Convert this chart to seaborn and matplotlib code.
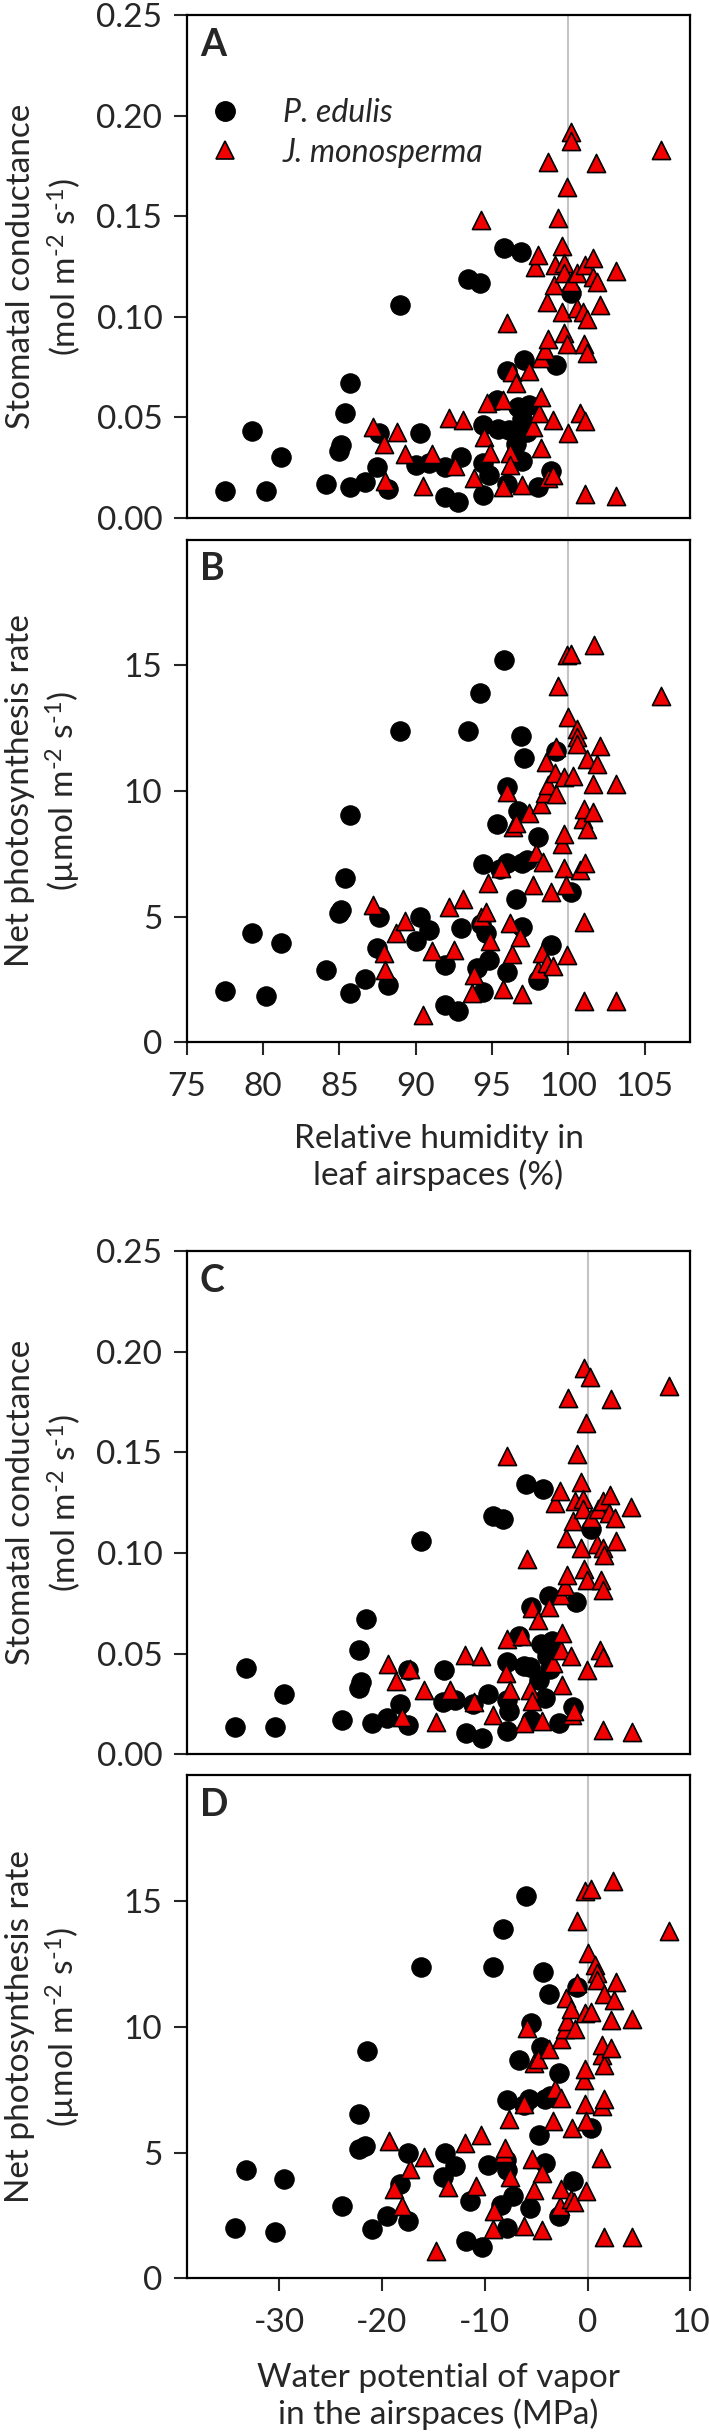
import matplotlib
matplotlib.use('Agg')
import matplotlib.pyplot as plt
import seaborn as sns
from matplotlib.lines import Line2D

# P. edulis - stomatal conductance panel (A / C)
pe_rh_gs = [77.5, 79.3, 80.2, 81.2, 84.1, 85.0, 85.1, 85.4, 85.7, 85.7, 86.7, 87.5, 87.6, 88.2,
            89.0, 90.0, 90.3, 90.9, 91.9, 91.9, 92.8, 93.0, 93.4, 94.2, 94.4, 94.4, 94.4, 94.8,
            95.3, 95.4, 95.8, 96.0, 96.0, 96.1, 96.6, 96.7, 96.9, 97.0, 97.1, 97.0, 97.3, 97.4,
            98.0, 98.9, 99.2, 100.2]
pe_gs = [0.0135, 0.043, 0.0135, 0.030, 0.017, 0.033, 0.036, 0.052, 0.067, 0.0155, 0.018, 0.025, 0.042, 0.0145,
         0.106, 0.026, 0.042, 0.027, 0.0105, 0.025, 0.008, 0.030, 0.1186, 0.117, 0.046, 0.027, 0.0114, 0.0215,
         0.0586, 0.044, 0.1344, 0.073, 0.0168, 0.0434, 0.0367, 0.055, 0.132, 0.028, 0.0786, 0.049, 0.0425, 0.056,
         0.0154, 0.0234, 0.0758, 0.112]
pe_psi_gs = [-34.3, -33.2, -30.4, -29.5, -23.9, -22.2, -22.0, -22.2, -21.6, -21.0, -19.5, -18.2, -17.5, -17.5,
             -16.2, -14.1, -14.0, -12.9, -11.8, -11.1, -10.3, -9.7, -9.2, -8.2, -7.8, -7.8, -7.8, -7.6,
             -6.7, -6.2, -6.0, -5.5, -5.5, -5.6, -4.75, -4.5, -4.3, -4.1, -3.8, -3.9, -3.65, -3.5,
             -2.8, -1.45, -1.1, 0.3]

# P. edulis - net photosynthesis panel (B / D)
pe_rh_an = [77.5, 79.3, 80.2, 81.2, 84.1, 85.0, 85.1, 85.4, 85.7, 85.7, 86.7, 87.5, 87.6, 88.2,
            89.0, 90.0, 90.3, 90.9, 91.9, 91.9, 92.8, 93.0, 93.4, 94.2, 94.0, 94.4, 94.3, 94.6,
            94.4, 94.8, 95.3, 95.5, 95.8, 96.0, 96.0, 96.0, 96.6, 96.7, 96.9, 97.0, 97.0, 97.1,
            97.3, 98.0, 98.0, 98.9, 99.2, 100.2]
pe_an = [2.02, 4.33, 1.83, 3.95, 2.87, 5.15, 5.25, 6.55, 9.04, 1.98, 2.5, 3.76, 4.99, 2.28,
         12.4, 4.05, 4.99, 4.48, 1.48, 3.08, 1.26, 4.53, 12.4, 13.9, 2.94, 7.08, 4.7, 4.33,
         1.99, 3.27, 8.69, 6.9, 15.2, 10.15, 7.14, 2.79, 5.69, 9.2, 12.2, 7.12, 4.59, 11.3,
         7.27, 8.18, 2.48, 3.86, 11.6, 5.98]
pe_psi_an = [-34.3, -33.2, -30.4, -29.5, -23.9, -22.2, -21.7, -22.2, -21.5, -21.0, -19.5, -18.2, -17.5, -17.5,
             -16.2, -14.1, -13.9, -12.9, -11.8, -11.4, -10.3, -9.7, -9.2, -8.2, -8.4, -7.8, -7.9, -7.8,
             -7.8, -7.3, -6.7, -6.2, -6.0, -5.5, -5.7, -5.6, -4.7, -4.5, -4.3, -4.1, -4.1, -3.8,
             -3.65, -2.8, -2.8, -1.45, -1.0, 0.3]

# J. monosperma - stomatal conductance panel (A / C)
jm_rh_gs = [87.2, 87.9, 88.8, 88.0, 89.3, 90.5, 91.1, 92.2, 92.6, 93.1, 93.8, 94.3, 94.5, 94.7,
            94.9, 95.7, 95.7, 96.0, 96.2, 96.2, 96.3, 96.6, 97.0, 97.4, 97.7, 97.8, 98.0, 98.1,
            98.2, 98.2, 98.2, 98.5, 98.6, 98.65, 98.65, 98.7, 99.0, 99.0, 99.05, 99.1, 99.3, 99.6,
            99.6, 99.7, 99.7, 99.75, 99.9, 99.9, 100.0, 100.2, 100.2, 100.2, 100.6, 100.6, 100.8, 100.95,
            101.05, 101.1, 101.1, 101.1, 101.2, 101.2, 101.6, 101.6, 101.8, 101.9, 102.1, 103.1, 103.1, 106.1]
jm_gs = [0.045, 0.0366, 0.0425, 0.0183, 0.0317, 0.0158, 0.0317, 0.0495, 0.0258, 0.0487, 0.0196, 0.148, 0.0403, 0.057,
         0.0321, 0.0586, 0.0155, 0.097, 0.0321, 0.0263, 0.0727, 0.0669, 0.0163, 0.0732, 0.0453, 0.1249, 0.1307, 0.052,
         0.0603, 0.0346, 0.0793, 0.0835, 0.1075, 0.1772, 0.0196, 0.0888, 0.0487, 0.0213, 0.1158, 0.1258, 0.149, 0.1352,
         0.1025, 0.1266, 0.1216, 0.0918, 0.1647, 0.0865, 0.042, 0.192, 0.1875, 0.1175, 0.1216, 0.1042, 0.052, 0.1025,
         0.0865, 0.0118, 0.0483, 0.1258, 0.0988, 0.0818, 0.129, 0.12, 0.1764, 0.1175, 0.1059, 0.123, 0.0108, 0.183]
jm_psi_gs = [-19.4, -18.6, -17.3, -18.1, -15.9, -14.7, -13.4, -11.9, -11.0, -10.4, -9.2, -7.8, -7.9, -7.8,
             -7.5, -6.4, -6.2, -5.9, -5.6, -5.4, -5.4, -4.8, -4.4, -3.8, -3.4, -3.2, -2.7, -2.6,
             -2.5, -2.5, -2.6, -2.2, -2.1, -1.9, -1.5, -2.0, -1.6, -1.3, -1.4, -1.2, -1.0, -0.6,
             -0.6, -0.4, -0.4, -0.35, -0.2, -0.1, -0.1, -0.3, 0.2, 0.3, 1.0, 0.9, 1.2, 1.5,
             1.3, 1.5, 1.5, 1.5, 1.6, 1.5, 2.2, 2.1, 2.3, 2.7, 2.8, 4.2, 4.3, 7.9]

# J. monosperma - net photosynthesis panel (B / D)
jm_rh_an = [87.2, 87.9, 88.0, 88.7, 89.3, 90.5, 91.1, 92.2, 92.5, 93.1, 93.7, 93.8, 94.3, 94.6,
            94.75, 94.9, 95.6, 95.7, 96.0, 96.2, 96.3, 96.4, 96.6, 96.85, 96.96, 97.4, 97.7, 97.9,
            98.0, 98.2, 98.26, 98.35, 98.5, 98.54, 98.6, 98.65, 98.9, 99.0, 99.1, 99.2, 99.2, 99.3,
            99.6, 99.7, 99.7, 99.7, 99.85, 99.9, 99.9, 99.97, 100.2, 100.3, 100.6, 100.6, 100.6, 100.8,
            100.95, 101.0, 101.06, 101.06, 101.1, 101.2, 101.2, 101.6, 101.6, 101.7, 101.9, 102.1, 103.1, 103.1,
            106.1]
jm_an = [5.46, 3.54, 2.87, 4.36, 4.84, 1.09, 3.64, 5.39, 3.67, 5.69, 1.95, 2.68, 4.99, 5.19,
         6.32, 4.04, 6.92, 2.1, 9.97, 4.73, 3.51, 8.57, 8.73, 4.2, 1.91, 9.13, 6.25, 7.52,
         2.87, 9.5, 3.56, 7.18, 9.93, 11.16, 3.14, 10.23, 5.99, 3.03, 10.7, 9.9, 11.75, 14.2,
         7.88, 8.31, 6.92, 10.56, 6.25, 15.4, 3.47, 12.95, 15.47, 10.59, 12.48, 12.15, 11.86, 6.85,
         8.9, 4.8, 9.3, 1.66, 7.12, 11.29, 8.47, 10.27, 9.17, 15.8, 11.07, 11.78, 10.3, 1.66,
         13.8]
jm_psi_an = [-19.3, -18.8, -18.1, -17.3, -15.9, -14.7, -13.6, -11.9, -10.9, -10.4, -9.2, -9.1, -8.1, -8.0,
             -7.6, -7.5, -6.2, -6.2, -5.9, -5.4, -5.2, -5.2, -4.8, -4.4, -4.4, -3.8, -3.4, -3.2,
             -2.7, -2.6, -2.6, -2.6, -2.2, -2.1, -1.6, -2.0, -1.5, -1.3, -1.6, -1.2, -1.0, -1.0,
             -0.35, -0.26, -0.22, -0.26, -0.13, -0.26, -0.13, 0.0, 0.3, 0.3, 0.75, 0.88, 0.88, 1.4,
             1.4, 1.3, 1.4, 1.6, 1.6, 1.6, 1.6, 2.3, 2.3, 2.5, 2.6, 2.8, 4.3, 4.3,
             7.9]

gs_ticks = [0.00, 0.05, 0.10, 0.15, 0.20, 0.25]
an_ticks = [0, 5, 10, 15]
rh_ticks = [75, 80, 85, 90, 95, 100, 105]
psi_ticks = [-30, -20, -10, 0, 10]

sns.set_style('ticks')
plt.rcParams['font.family'] = ['Lato', 'DejaVu Sans']
plt.rcParams['mathtext.fontset'] = 'custom'
plt.rcParams['mathtext.rm'] = 'Lato'
plt.rcParams['mathtext.it'] = 'Lato:italic'
plt.rcParams['mathtext.bf'] = 'Lato:bold'
plt.rcParams['axes.unicode_minus'] = False

RED = '#f00000'
GREY = '#c4c4c4'
TICK_FS = 24
LABEL_FS = 24

gs_label = 'Stomatal conductance\n(mol m$^{\\text{-2}}$ s$^{\\text{-1}}$)'
an_label = 'Net photosynthesis rate\n(\u00b5mol m$^{\\text{-2}}$ s$^{\\text{-1}}$)'

fig = plt.figure(figsize=(7.09, 24.34), dpi=100)
left, width = 0.2633, 0.7104
axA = fig.add_axes([left, 0.7873, width, 0.2064])
axB = fig.add_axes([left, 0.5718, width, 0.2064])
axC = fig.add_axes([left, 0.2793, width, 0.2067])
axD = fig.add_axes([left, 0.0639, width, 0.2067])


def draw_panel(ax, pe_x, pe_y, jm_x, jm_y, vline):
    ax.axvline(vline, color=GREY, lw=1.5, zorder=0)
    sns.scatterplot(x=pe_x, y=pe_y, ax=ax, marker='o', s=195, color='black',
                    edgecolor='black', linewidth=0.8, zorder=2, legend=False)
    sns.scatterplot(x=jm_x, y=jm_y, ax=ax, marker='^', s=170, color=RED,
                    edgecolor='black', linewidth=1.2, zorder=3, legend=False)
    for sp in ax.spines.values():
        sp.set_visible(True)
        sp.set_linewidth(1.6)
        sp.set_color('black')
    ax.tick_params(axis='y', direction='out', length=9.5, width=1.5,
                   labelsize=TICK_FS, pad=8, right=False, left=True)


draw_panel(axA, pe_rh_gs, pe_gs, jm_rh_gs, jm_gs, 100)
draw_panel(axB, pe_rh_an, pe_an, jm_rh_an, jm_an, 100)
draw_panel(axC, pe_psi_gs, pe_gs, jm_psi_gs, jm_gs, 0)
draw_panel(axD, pe_psi_an, pe_an, jm_psi_an, jm_an, 0)

for ax in (axA, axB):
    ax.set_xlim(75, 108)
for ax in (axC, axD):
    ax.set_xlim(-39, 10)

for ax in (axA, axC):
    ax.set_ylim(0, 0.25)
    ax.set_yticks(gs_ticks)
    ax.set_yticklabels([f'{t:.2f}' for t in gs_ticks])
    ax.tick_params(axis='x', bottom=False, labelbottom=False)
    ax.set_xlabel('')
    ax.set_ylabel(gs_label, fontsize=LABEL_FS, va='center', linespacing=1.3)
    ax.yaxis.set_label_coords(-0.283, 0.5)

for ax in (axB, axD):
    ax.set_ylim(0, 20)
    ax.set_yticks(an_ticks)
    ax.set_yticklabels([str(t) for t in an_ticks])
    ax.tick_params(axis='x', direction='out', length=9.5, width=1.5,
                   labelsize=TICK_FS, pad=12, bottom=True)
    ax.set_ylabel(an_label, fontsize=LABEL_FS, va='center', linespacing=1.3)
    ax.yaxis.set_label_coords(-0.283, 0.5)

axB.set_xticks(rh_ticks)
axB.set_xticklabels([str(t) for t in rh_ticks])
axB.set_xlabel('Relative humidity in\nleaf airspaces (%)', fontsize=LABEL_FS, va='center')
axB.xaxis.set_label_coords(0.5, -0.23)

axD.set_xticks(psi_ticks)
axD.set_xticklabels([str(t) for t in psi_ticks])
axD.set_xlabel('Water potential of vapor\nin the airspaces (MPa)', fontsize=LABEL_FS, va='center')
axD.xaxis.set_label_coords(0.5, -0.234)

for ax, letter in zip((axA, axB, axC, axD), 'ABCD'):
    ax.text(0.026, 0.975, letter, transform=ax.transAxes, fontsize=27,
            fontweight='bold', ha='left', va='top')

handles = [
    Line2D([], [], linestyle='none', marker='o', markersize=14, color='black',
           markeredgecolor='black', label='P. edulis'),
    Line2D([], [], linestyle='none', marker='^', markersize=13, color=RED,
           markeredgecolor='black', markeredgewidth=1.2, label='J. monosperma'),
]
axA.legend(handles=handles, loc='upper left', bbox_to_anchor=(0.0, 0.88), frameon=False,
           prop={'style': 'italic', 'size': 23}, handlelength=1.0, handletextpad=1.3,
           labelspacing=0.3, borderaxespad=0.3)

fig.savefig('out.png', dpi=100)
